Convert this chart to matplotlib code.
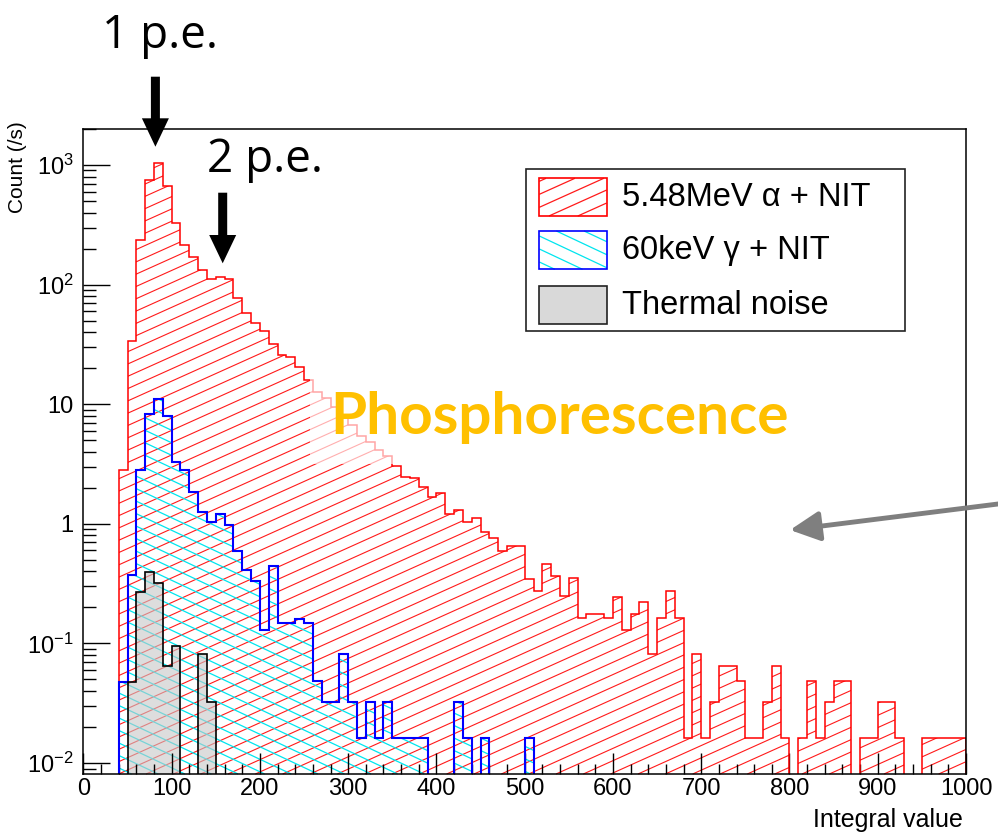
import numpy as np
import matplotlib
matplotlib.use('Agg')
import matplotlib.pyplot as plt
from matplotlib.collections import LineCollection
from matplotlib.patches import Polygon, Rectangle, FancyArrowPatch
from matplotlib.ticker import MultipleLocator, FixedLocator, FuncFormatter, LogLocator

plt.rcParams['font.family'] = ['Liberation Sans', 'DejaVu Sans']
plt.rcParams['mathtext.fontset'] = 'custom'
plt.rcParams['mathtext.rm'] = 'Liberation Sans'
plt.rcParams['mathtext.it'] = 'Liberation Sans:italic'
plt.rcParams['mathtext.bf'] = 'Liberation Sans:bold'

# 100 bins of width 10 between 0 and 1000
bin_edges = np.arange(0, 1010, 10)

alpha_nit = [0, 0, 0, 0, 2.82, 34, 238, 748, 1045, 671,
             327, 216, 171, 132, 111, 116, 111, 76.8, 57.5, 47.5,
             40.9, 31.7, 25.8, 24.7, 20.6, 15.9, 12.7, 11.2, 9.5, 7.96,
             6.7, 5.42, 4.86, 4.14, 3.71, 3.04, 2.48, 2.40, 2.04, 1.69,
             1.80, 1.20, 1.30, 1.03, 1.12, 0.859, 0.765, 0.596, 0.656, 0.656,
             0.344, 0.276, 0.459, 0.368, 0.248, 0.350, 0.162, 0.176, 0.176, 0.162,
             0.243, 0.129, 0.176, 0.223, 0.0815, 0.162, 0.274, 0.162, 0.0163, 0.0815,
             0.0163, 0.0326, 0.0647, 0.0647, 0.0485, 0.0163, 0.0163, 0.0326, 0.0647, 0.0163,
             0, 0.0163, 0.0485, 0.0163, 0.0326, 0.0485, 0.0485, 0, 0.0163, 0.0163,
             0.0326, 0.0326, 0.0163, 0, 0, 0.0163, 0.0163, 0.0163, 0.0163, 0.0163]

gamma_nit = [0, 0, 0, 0, 0.048, 0.373, 2.82, 8.3, 11.0, 8.0,
             3.3, 2.82, 1.83, 1.25, 1.03, 1.21, 0.98, 0.59, 0.41, 0.33,
             0.13, 0.44, 0.147, 0.147, 0.16, 0.147, 0.0485, 0.0326, 0.0326, 0.0815,
             0.0326, 0.0163, 0.0326, 0.0163, 0.0326, 0.0163, 0.0163, 0.0163, 0.0163, 0,
             0, 0, 0.0326, 0.0163, 0, 0.0163, 0, 0, 0, 0,
             0.0163, 0, 0, 0, 0, 0, 0, 0, 0, 0,
             0, 0, 0, 0, 0, 0, 0, 0, 0, 0,
             0, 0, 0, 0, 0, 0, 0, 0, 0, 0,
             0, 0, 0, 0, 0, 0, 0, 0, 0, 0,
             0, 0, 0, 0, 0, 0, 0, 0, 0, 0]

thermal = [0, 0, 0, 0, 0, 0.048, 0.27, 0.398, 0.322, 0.0647,
           0.095, 0, 0, 0.0815, 0.0326, 0, 0, 0, 0, 0,
           0, 0, 0, 0, 0, 0, 0, 0, 0, 0,
           0, 0, 0, 0, 0, 0, 0, 0, 0, 0,
           0, 0, 0, 0, 0, 0, 0, 0, 0, 0,
           0, 0, 0, 0, 0, 0, 0, 0, 0, 0,
           0, 0, 0, 0, 0, 0, 0, 0, 0, 0,
           0, 0, 0, 0, 0, 0, 0, 0, 0, 0,
           0, 0, 0, 0, 0, 0, 0, 0, 0, 0,
           0, 0, 0, 0, 0, 0, 0, 0, 0, 0]

legend_labels = ['5.48MeV \u03b1 + NIT', '60keV \u03b3 + NIT', 'Thermal noise']
y_ticks = [1e-2, 1e-1, 1, 10, 1e2, 1e3]
y_tick_labels = [r'$10^{-2}$', r'$10^{-1}$', '1', '10', r'$10^{2}$', r'$10^{3}$']

W, H = 998, 834
fig = plt.figure(figsize=(W / 100, H / 100), dpi=100)
ax_l, ax_r, ax_t, ax_b = 83.4, 966.0, 129.0, 774.0
ax = fig.add_axes([ax_l / W, 1 - ax_b / H, (ax_r - ax_l) / W, (ax_b - ax_t) / H])
FLOOR = 1e-4


def hatch(x0, y0, x1, y1, slope, step, color, lw, zorder):
    # parallel lines inside a pixel box (y from top), returned as a LineCollection
    Yb, Yt = H - y1, H - y0
    span = abs(slope) * (x1 - x0)
    segs = []
    for a in np.arange(Yb - span - step, Yt + span + step, step):
        xa = x0 + (Yb - a) / slope
        xb = x0 + (Yt - a) / slope
        lo, hi = max(min(xa, xb), x0), min(max(xa, xb), x1)
        if hi <= lo:
            continue
        segs.append([(lo / W, (a + slope * (lo - x0)) / H),
                     (hi / W, (a + slope * (hi - x0)) / H)])
    return LineCollection(segs, colors=color, linewidths=lw,
                          transform=fig.transFigure, zorder=zorder)


def floor(v):
    v = np.asarray(v, dtype=float)
    return np.where(v > 0, v, FLOOR)


# red: 5.48 MeV alpha
red_fill = ax.stairs(floor(alpha_nit), bin_edges, baseline=FLOOR, fill=True,
                     facecolor='none', edgecolor='none', zorder=1)
lc = hatch(ax_l, ax_t, ax_r, ax_b, 0.45, 12.3, '#ff1a1a', 0.8, 1.1)
lc.set_clip_path(red_fill)
ax.add_collection(lc, autolim=False)

# blue: 60 keV gamma
blue_fill = ax.stairs(floor(gamma_nit), bin_edges, baseline=FLOOR, fill=True,
                      facecolor='none', edgecolor='none', zorder=1)
lc = hatch(ax_l, ax_t, ax_r, ax_b, -0.47, 12.5, '#00e5ee', 0.9, 1.2)
lc.set_clip_path(blue_fill)
ax.add_collection(lc, autolim=False)

# thermal noise
ax.stairs(floor(thermal), bin_edges, baseline=FLOOR, fill=True,
          facecolor=(0.78, 0.78, 0.78), alpha=0.6, edgecolor='none', zorder=1.3)

ax.stairs(floor(alpha_nit), bin_edges, baseline=FLOOR, color='red', lw=1.1, zorder=2)
ax.stairs(floor(gamma_nit), bin_edges, baseline=FLOOR, color='blue', lw=1.5, zorder=2.1)
ax.stairs(floor(thermal), bin_edges, baseline=FLOOR, color='black', lw=1.2, zorder=2.2)

ax.set_yscale('log')
ax.set_xlim(0, 1000)
ax.set_ylim(0.0081, 2000)

ax.xaxis.set_major_locator(MultipleLocator(100))
ax.xaxis.set_minor_locator(MultipleLocator(20))
ax.yaxis.set_major_locator(FixedLocator(y_ticks))
ax.yaxis.set_major_formatter(FuncFormatter(lambda v, i: y_tick_labels[y_ticks.index(v)] if v in y_ticks else ''))
ax.yaxis.set_minor_locator(LogLocator(subs=np.arange(2, 10)))
ax.yaxis.set_minor_formatter(FuncFormatter(lambda v, i: ''))

ax.tick_params(which='both', direction='in', top=False, right=False, width=1.0,
               labelsize=17, colors='black')
ax.tick_params(axis='x', which='major', length=15, pad=3)
ax.tick_params(axis='x', which='minor', length=7.2)
ax.tick_params(axis='y', which='major', length=19.4, pad=7)
ax.tick_params(axis='y', which='minor', length=9.7)
for s in ax.spines.values():
    s.set_linewidth(1.1)

fig.text(963.3 / W, 1 - 826.7 / H, 'Integral value', ha='right', va='baseline', fontsize=18)
fig.text(18 / W, 1 - 121.7 / H, 'Count (/s)', rotation=90, ha='center', va='top', fontsize=15)

# legend
fig.add_artist(Rectangle((526 / W, 1 - 330.7 / H), (905 - 526) / W, (330.7 - 169.3) / H,
                         transform=fig.transFigure, facecolor='white', edgecolor='#222222',
                         lw=1.2, zorder=4))
boxes = [(178.3, 216.0), (231.0, 269.3), (286.0, 324.0)]
styles = [('red', 'none', 0.45, '#ff1a1a'), ('blue', 'none', -0.47, '#00e5ee'),
          ('#222222', (0.85, 0.85, 0.85), None, None)]
for (yt, yb), (ec, fc, slope, hc), label in zip(boxes, styles, legend_labels):
    rect = Rectangle((539.3 / W, 1 - yb / H), (606.7 - 539.3) / W, (yb - yt) / H,
                     transform=fig.transFigure, facecolor=fc, edgecolor=ec, lw=1.2, zorder=5)
    fig.add_artist(rect)
    if slope is not None:
        lc = hatch(539.3, yt, 606.7, yb, slope, 13, hc, 0.9, 4.9)
        fig.add_artist(lc)
    fig.text(621.7 / W, 1 - (yt + yb) / 2 / H, label, ha='left', va='center',
             fontsize=23.5, zorder=6)


def down_arrow(xc, y_top, y_head, y_tip, shaft_w, head_w):
    pts = [(xc - shaft_w / 2, y_top), (xc + shaft_w / 2, y_top), (xc + shaft_w / 2, y_head),
           (xc + head_w / 2, y_head), (xc, y_tip), (xc - head_w / 2, y_head),
           (xc - shaft_w / 2, y_head)]
    pts = [(x / W, 1 - y / H) for x, y in pts]
    fig.add_artist(Polygon(pts, closed=True, transform=fig.transFigure,
                           facecolor='black', edgecolor='none', zorder=6))


down_arrow(155.4, 76.7, 118.3, 146.7, 9, 27)
down_arrow(222.7, 192.7, 235.0, 263.3, 9, 27)
fig.text(101.7 / W, 1 - 48.3 / H, '1 p.e.', ha='left', va='baseline', fontsize=33,
         family='Open Sans', zorder=6)
fig.text(206.7 / W, 1 - 171.7 / H, '2 p.e.', ha='left', va='baseline', fontsize=33,
         family='Open Sans', zorder=6)

fig.text(330 / W, 1 - 434 / H, 'Phosphorescence', ha='left', va='baseline', fontsize=42,
         family='Lato', fontweight='bold', color='#FFC000', zorder=6,
         bbox=dict(boxstyle='square,pad=0.35', facecolor='white', edgecolor='none', alpha=0.65))

fig.add_artist(FancyArrowPatch((1010 / W, 1 - 502.5 / H), (790 / W, 1 - 530 / H),
                               transform=fig.transFigure,
                               arrowstyle='-|>,head_length=0.9,head_width=0.45',
                               mutation_scale=20, lw=3.5, color='#7f7f7f',
                               shrinkA=0, shrinkB=0, zorder=6))

fig.savefig('out.png', dpi=100)
